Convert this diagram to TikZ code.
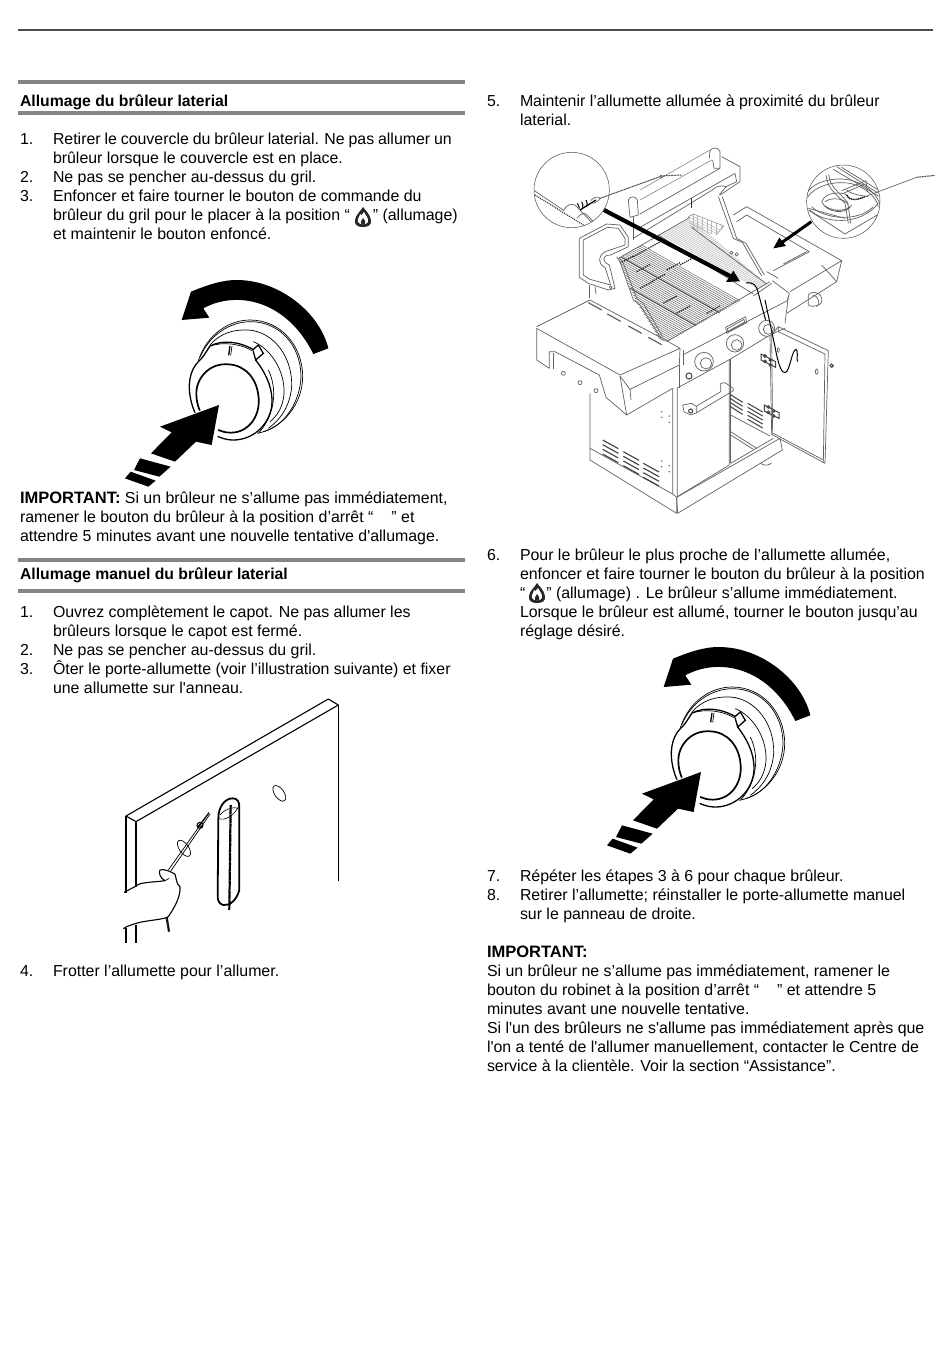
\documentclass[tikz,border=0pt]{standalone}
\usepackage{fontspec}
\setmainfont[Ligatures=TeXOff]{Liberation Sans}
\newcommand{\gap}[1]{\hspace*{#1pt}}
\newcommand{\imp}{{\fontsize{16.5}{19}\selectfont\bfseries IMPORTANT:}}
\tikzset{
  x=1pt,y=-1pt,
  txt/.style={anchor=base west,inner sep=0pt,outer sep=0pt,font=\fontsize{15.9}{19}\selectfont,text=black},
  hd/.style={txt,font=\fontsize{15.75}{19}\selectfont\bfseries},
  rule/.style={line width=4pt,draw=black!48},
  ink/.style={draw=black,line width=1.1pt,line join=round},
  gl/.style={draw=black!62,line width=0.7pt,line join=round},
  gt/.style={draw=black!55,line width=0.55pt},
  gr/.style={draw=black!28,line width=0.5pt},
  knobline/.style={draw=black,line width=0.7pt},
  knobthick/.style={draw=black,line width=1.3pt},
  pics/knob/.style={code={
    \begin{scope}[scale=1/3]
    \fill[black] (580,252) -- (625,235) .. controls (600,130) and (480,30) .. (350,30) .. controls (300,30) and (250,50) .. (213,65) -- (185,150) -- (268,143) -- (250,115) .. controls (350,60) and (500,90) .. (580,252) -- cycle;
    \draw[knobline] (235,272) .. controls (262,190) and (330,150) .. (390,150) .. controls (480,150) and (548,225) .. (548,320) .. controls (548,400) and (490,475) .. (412,490);
    \draw[knobline] (240,262) .. controls (268,195) and (330,155) .. (392,155) .. controls (480,155) and (543,228) .. (543,320) .. controls (540,400) and (490,470) .. (430,485);
    \draw[knobline] (270,225) .. controls (300,190) and (340,178) .. (385,180) .. controls (460,185) and (518,260) .. (515,350) .. controls (510,410) and (480,450) .. (445,475);
    \draw[knobline] (400,215) .. controls (450,235) and (495,300) .. (492,370) .. controls (490,410) and (470,440) .. (450,455);
    \draw[knobthick] (235,275) .. controls (250,262) and (255,250) .. (270,228) .. controls (310,208) and (360,215) .. (402,240);
    \draw[knobline] (270,228) .. controls (310,215) and (360,220) .. (402,245);
    \draw[knobthick] (400,238) -- (415,225) -- (430,250) -- (407,270) -- (400,245);
    \draw[knobthick] (330,228) -- (326,256);
    \draw[knobline] (336,228) -- (332,256);
    \draw[knobthick] (235,275) .. controls (210,300) and (200,345) .. (215,400) .. controls (232,465) and (285,510) .. (340,510) .. controls (395,510) and (445,470) .. (455,410) .. controls (462,350) and (430,300) .. (407,270);
    \draw[knobline] (445,300) .. controls (470,350) and (470,430) .. (415,490);
    \draw[draw=black,line width=1.7pt,fill=white] (325,283) .. controls (268,278) and (228,325) .. (229,372) .. controls (230,440) and (280,488) .. (332,488) .. controls (385,488) and (420,440) .. (416,385) .. controls (412,325) and (375,285) .. (325,283) -- cycle;
    \fill[white] (110,480) -- (300,395) -- (290,545) -- (90,640) -- cycle;
    \fill[black] (297,405) -- (120,470) -- (155,487) -- (93,550) -- (165,575) -- (228,515) -- (275,525) -- cycle;
    \fill[black] (60,565) -- (152,590) -- (118,620) -- (42,600) -- cycle;
    \fill[black] (32,605) -- (107,632) -- (85,650) -- (15,625) -- cycle;
    \end{scope}
  }},
  pics/flameicon/.style={code={
    \fill[black!85] (0,-10) .. controls (2,-7) and (7,-3) .. (8,3) .. controls (9,8) and (5,10) .. (0,10) .. controls (-5,10) and (-9,8) .. (-8,3) .. controls (-7,-3) and (-2,-6) .. (0,-10) -- cycle;
    \fill[white] (1,-5) .. controls (2,-2) and (6,1) .. (5,5) .. controls (4,8) and (-4,8) .. (-5,5) .. controls (-6,2) and (-3,-1) .. (-3,-3) .. controls (-2,-2) and (-1,-2) .. (-1,-2) .. controls (-1,-3) and (0,-4) .. (1,-5) -- cycle;
    \fill[black!85] (0,1) .. controls (2,3) and (3,5) .. (2,7) -- (-2,7) .. controls (-3,5) and (-1,3) .. (0,1) -- cycle;
  }}
}
\begin{document}
\begin{tikzpicture}
\useasboundingbox (0,0) rectangle (950,1369);
\fill[white] (0,0) rectangle (950,1369);

% page rules
\coordinate (ta) at (18,30); \coordinate (tb) at (933,30);
\draw[black!70,line width=1.6pt] (ta) -- (tb);
\draw[rule] (18,82) -- (465,82);
\draw[rule] (18,113) -- (465,113);
\draw[rule] (18,560) -- (465,560);
\draw[rule] (18,591) -- (465,591);

% left column text
\node[hd] (h1) at (20,106) {Allumage du brûleur laterial};
\node[txt] (n1) at (20,144) {1.};
\node[txt] (l1) at (53,144) {\spaceskip=3.9pt Retirer le couvercle du brûleur laterial. Ne pas allumer un};
\node[txt] (l2) at (53,163) {brûleur lorsque le couvercle est en place.};
\node[txt] (n2) at (20,182) {2.};
\node[txt] (l3) at (53,182) {Ne pas se pencher au-dessus du gril.};
\node[txt] (n3) at (20,201) {3.};
\node[txt] (l4) at (53,201) {Enfoncer et faire tourner le bouton de commande du};
\node[txt] (l5) at (53,220) {brûleur du gril pour le placer à la position “\gap{23}” (allumage)};
\node[txt] (l6) at (53,239) {et maintenir le bouton enfoncé.};
\pic at (363,217) {flameicon};

\pic at (120,270) {knob};

\node[txt] (i1) at (20,503) {\imp\ Si un brûleur ne s’allume pas immédiatement,};
\node[txt] (i2) at (20,522) {ramener le bouton du brûleur à la position d’arrêt “\gap{18}” et};
\node[txt] (i3) at (20,541) {attendre 5 minutes avant une nouvelle tentative d'allumage.};

\node[hd] (h2) at (20,579) {Allumage manuel du brûleur laterial};
\node[txt] (n4) at (20,617) {1.};
\node[txt] (m1) at (53,617) {Ouvrez complètement le capot. Ne pas allumer les};
\node[txt] (m2) at (53,636) {brûleurs lorsque le capot est fermé.};
\node[txt] (n5) at (20,655) {2.};
\node[txt] (m3) at (53,655) {Ne pas se pencher au-dessus du gril.};
\node[txt] (n6) at (20,674) {3.};
\node[txt] (m4) at (53,674) {Ôter le porte-allumette (voir l’illustration suivante) et fixer};
\node[txt] (m5) at (53,693) {une allumette sur l'anneau.};
\node[txt] (n7) at (20,976) {4.};
\node[txt] (m6) at (53,976) {Frotter l’allumette pour l’allumer.};

% right column text
\node[txt] (n8) at (487,106) {5.};
\node[txt] (r1) at (520,106) {Maintenir l’allumette allumée à proximité du brûleur};
\node[txt] (r2) at (520,125) {laterial.};
\node[txt] (n9) at (487,560) {6.};
\node[txt] (r3) at (520,560) {Pour le brûleur le plus proche de l’allumette allumée,};
\node[txt] (r4) at (520,579) {enfoncer et faire tourner le bouton du brûleur à la position};
\node[txt] (r5) at (520,598) {“\gap{21}” (allumage) . Le brûleur s’allume immédiatement.};
\node[txt] (r6) at (520,617) {Lorsque le brûleur est allumé, tourner le bouton jusqu’au};
\node[txt] (r7) at (520,636) {réglage désiré.};
\pic at (537,593) {flameicon};

\pic at (602,637) {knob};

\node[txt] (n10) at (487,881) {7.};
\node[txt] (r8) at (520,881) {Répéter les étapes 3 à 6 pour chaque brûleur.};
\node[txt] (n11) at (487,900) {8.};
\node[txt] (r9) at (520,900) {Retirer l’allumette; réinstaller le porte-allumette manuel};
\node[txt] (r10) at (520,919) {sur le panneau de droite.};
\node[txt] (r11) at (487,957) {\imp};
\node[txt] (r12) at (487,976) {Si un brûleur ne s’allume pas immédiatement, ramener le};
\node[txt] (r13) at (487,995) {bouton du robinet à la position d’arrêt “\gap{18}” et attendre 5};
\node[txt] (r14) at (487,1014) {minutes avant une nouvelle tentative.};
\node[txt] (r15) at (487,1033) {Si l'un des brûleurs ne s'allume pas immédiatement après que};
\node[txt] (r16) at (487,1052) {l'on a tenté de l'allumer manuellement, contacter le Centre de};
\node[txt] (r17) at (487,1071) {service à la clientèle. Voir la section “Assistance”.};

% manual match-holder illustration
\begin{scope}[shift={(110,690)},scale=1/3]
\draw[ink] (48,378) -- (655,27) -- (685,45) -- (78,395) -- cycle;
\draw[ink] (48,378) -- (48,610);
\draw[ink] (78,395) -- (78,590);
\draw[line width=1.3pt] (685,45) -- (685,572);
\draw[line width=0.7pt,rotate around={35:(508,310)}] (508,310) ellipse[x radius=14,y radius=27];
\draw[line width=1.8pt] (325,385) .. controls (325,350) and (345,325) .. (368,325) .. controls (382,325) and (388,335) .. (388,350) -- (388,600) .. controls (380,630) and (360,648) .. (340,645) .. controls (328,642) and (323,632) .. (323,620) -- cycle;
\draw[line width=0.6pt] (325,385) .. controls (345,395) and (375,375) .. (388,345);
\draw[line width=0.6pt] (330,375) .. controls (345,355) and (375,350) .. (385,355);
\draw[line width=2.2pt,dash pattern=on 1.6pt off 0.3pt] (362,345) -- (358,660);
\draw[line width=0.7pt] (175,540) -- (297,368);
\draw[line width=0.7pt] (181,545) -- (300,372);
\draw[line width=1.2pt,dash pattern=on 1.6pt off 0.5pt] (265,410) -- (297,368);
\draw[line width=1.1pt] (270,406) circle[radius=9];
\draw[line width=0.6pt] (270,406) circle[radius=4];
\draw[line width=0.7pt,rotate around={35:(222,475)}] (222,475) ellipse[x radius=14,y radius=28];
\draw[ink] (42,607) -- (75,590) .. controls (90,575) and (125,578) .. (165,572) .. controls (150,565) and (145,545) .. (150,540) .. controls (158,535) and (185,545) .. (195,553) .. controls (200,565) and (197,580) .. (210,590) .. controls (212,620) and (195,650) .. (175,680) .. controls (165,688) and (120,690) .. (85,698) .. controls (70,703) and (50,708) .. (40,716);
\draw[line width=0.7pt] (165,572) -- (178,565);
\draw[line width=2.2pt,dash pattern=on 1.6pt off 0.4pt] (170,682) -- (177,725);
\draw[ink] (48,714) -- (48,760);
\draw[ink] (78,704) -- (78,760);
\end{scope}

% grill illustration (coordinates of the upper enlargement)
\begin{scope}[shift={(520,140)},scale=1/3]
% main grate
\begin{scope}
\clip (295,358) -- (415,285) -- (700,462) -- (440,605) -- (420,600) -- (345,480) -- cycle;
\foreach \k in {0,5,...,420} {
  \draw[gt] (250-\k*0.55,250+\k*1.0) -- (850-\k*0.55,590+\k*1.0);
}
\foreach \k in {70,130,210,290,370} {
  \draw[gl,draw=black!80] (270-\k*0.55,240+\k*1.0) -- (870-\k*0.55,580+\k*1.0);
}
\foreach \ax/\ay in {340/350,385/325,350/395,300/370,395/425,440/390,480/375,360/445,430/490,560/520,470/520} {
  \draw[black!85,line width=1.2pt,dash pattern=on 1.4pt off 0.9pt] (\ax,\ay) -- ++(40,-22);
}
\end{scope}
% plain band beside the grate
\begin{scope}
\clip (415,285) -- (510,232) -- (740,432) -- (700,462) -- cycle;
\foreach \k in {0,10,...,150} {
  \draw[gr] (380+\k*0.5,260-\k*0.3) -- (760+\k*0.5,470-\k*0.3);
}
\end{scope}
% upper rack
\begin{scope}
\clip (505,230) -- (520,222) -- (612,258) -- (588,285) -- (510,262) -- cycle;
\foreach \k in {0,8,...,80} {
  \draw[gr] (480,210+\k) -- (640,290+\k);
}
\foreach \k in {0,14,...,110} {
  \draw[gr] (505+\k,215) -- (505+\k,295);
}
\end{scope}
\draw[gr,draw=black!45] (505,230) -- (520,222) -- (612,258) -- (588,285);
\draw[gl] (515,262) -- (740,432);
\draw[gl] (415,285) -- (700,462);
\draw[gl] (295,355) -- (510,232);
\draw[gl] (290,350) -- (300,365) -- (340,480) -- (360,495) -- (420,590);
\draw[gl] (297,352) -- (310,370) -- (350,475) -- (370,490) -- (428,590);
% lid
\draw[gr,draw=black!55] (360,150) -- (570,30);
\draw[gr,draw=black!55] (360,180) -- (575,60);
\draw[gl] (568,55) -- (570,32) .. controls (575,22) and (595,20) .. (600,35) -- (600,85) -- (582,85) -- (578,60);
\draw[gl] (325,180) .. controls (330,165) and (350,170) .. (352,180) -- (355,225) -- (330,232) -- cycle;
\draw[gl] (340,232) -- (340,300);
\draw[gl] (605,50) -- (660,80) -- (660,125) -- (600,165);
\draw[gl] (600,85) -- (360,222);
\draw[gl] (645,100) -- (650,125) -- (618,140);
\draw[gl] (645,100) -- (360,262);
\draw[gl] (580,148) -- (340,295);
\draw[gl] (580,148) .. controls (585,138) and (610,135) .. (618,140) -- (598,165);
\draw[gl] (595,170) -- (640,295) -- (668,308) -- (725,408);
\draw[gl] (607,170) -- (650,295) -- (678,310) -- (733,405);
\draw[black!80,line width=0.9pt] (515,175) -- (515,205);
\draw[gl] (650,343) circle[radius=5];
\draw[gl] (634,338) circle[radius=5];
% left end of lid
\draw[gl] (178,295) -- (260,252) -- (300,255) -- (325,292) -- (325,320) -- (272,345) .. controls (245,345) and (245,365) .. (268,375) -- (285,445) -- (265,450) -- (205,430) -- (178,412) -- cycle;
\draw[gl] (190,300) -- (262,262) -- (295,265) -- (315,295) -- (315,315) -- (255,335) .. controls (232,350) and (235,375) .. (255,382) -- (272,435) -- (210,418) -- (190,405) -- cycle;
\draw[gl] (272,442) circle[radius=4];
\draw[gl] (208,435) -- (208,475);
\draw[gl] (225,440) -- (228,462);
% right shelf
\draw[gl] (640,225) -- (680,200) -- (965,362) -- (810,455);
\draw[gl] (650,245) -- (680,225) -- (868,335) -- (760,392);
\draw[gl] (790,372) -- (860,335);
\draw[gl] (740,395) -- (775,415);
\draw[gl] (965,362) -- (950,425) -- (800,520);
\draw[gl] (805,470) -- (795,550);
\draw[gl] (905,375) -- (950,425);
\draw[gl] (865,470) .. controls (860,455) and (900,450) .. (905,475) .. controls (912,495) and (880,505) .. (865,495) -- cycle;
\draw[gl] (878,465) .. controls (892,465) and (905,490) .. (890,500);
% firebox rim
\draw[gl] (757,422) -- (808,460) -- (802,482) -- (488,645);
\draw[gl] (750,425) -- (440,605);
\draw[gl] (700,468) -- (755,430);
\draw[gl] (617,562) -- (677,530) -- (680,548) -- (620,580) -- cycle;
\draw[gl] (622,566) -- (672,538) -- (674,546) -- (624,574) -- cycle;
% left circle
\draw[draw=black!70,line width=0.5pt,fill=white] (155,150) circle[radius=113];
\begin{scope}
\clip (155,150) circle[radius=113];
\draw[gl] (40,150) -- (130,210);
\draw[black!80,line width=1.2pt,dash pattern=on 1pt off 1pt] (45,165) -- (195,258);
\draw[gl] (130,212) .. controls (140,195) and (150,190) .. (165,195) -- (218,250);
\draw[gl] (172,235) .. controls (180,222) and (190,218) .. (198,222) -- (220,245);
\draw[black,line width=1.3pt] (180,210) -- (228,180);
\draw[gl] (212,182) .. controls (222,170) and (235,168) .. (240,175) .. controls (235,185) and (225,190) .. (212,190);
\draw[black,line width=1pt] (172,190) .. controls (175,197) and (178,200) .. (178,205) (185,185) .. controls (188,192) and (190,197) .. (188,203) (198,180) .. controls (201,187) and (204,193) .. (200,200);
\end{scope}
\draw[black!70,line width=1pt,dash pattern=on 1.2pt off 0.5pt] (240,175) -- (420,110);
\draw[black!70,line width=1pt,dash pattern=on 2pt off 0.8pt] (420,108) -- (487,105);
\draw[gl] (424,110) circle[radius=4];
\end{scope}

% right detail circle (coordinates of its enlargement)
\begin{scope}[shift={(800,160)},scale=1/3]
\draw[draw=black!70,line width=0.5pt,fill=white] (130,125) circle[radius=110];
\begin{scope}
\clip (130,125) circle[radius=110];
\draw[gl] (110,20) -- (235,100);
\draw[gl] (100,28) -- (235,108);
\draw[gl] (125,22) -- (235,90);
\draw[gl] (20,100) .. controls (40,65) and (100,50) .. (150,60) .. controls (195,70) and (235,105) .. (240,135);
\draw[gl] (22,112) .. controls (45,78) and (100,62) .. (150,70) .. controls (190,78) and (230,110) .. (235,140);
\draw[gl] (30,150) .. controls (70,190) and (180,200) .. (235,130);
\draw[gl] (35,140) .. controls (70,175) and (170,190) .. (220,140);
\draw[gl] (78,45) .. controls (80,65) and (88,85) .. (105,100) -- (135,130) -- (145,190);
\draw[gl] (86,43) .. controls (88,62) and (96,80) .. (113,95) -- (143,127) -- (152,190);
\draw[gl] (25,145) -- (135,175);
\draw[gl] (25,150) -- (135,222) -- (240,160);
\draw[gl] (125,92) -- (198,62) -- (202,95);
\draw[gl] (130,100) -- (195,72);
\draw[gl] (65,125) .. controls (75,95) and (125,95) .. (140,105);
\draw[gl] (65,125) .. controls (80,160) and (140,165) .. (155,135);
\draw[gl] (75,125) .. controls (95,110) and (135,115) .. (145,135);
\draw[black!70,line width=1.1pt,dash pattern=on 1.2pt off 0.6pt] (75,138) .. controls (95,155) and (135,155) .. (150,140);
\draw[gl] (140,90) .. controls (150,100) and (170,105) .. (205,110);
\draw[black,line width=1.3pt,dash pattern=on 1.3pt off 0.6pt] (140,105) .. controls (150,125) and (170,120) .. (195,110);
\end{scope}
\draw[black!60,line width=0.7pt] (195,110) -- (350,52);
\draw[black!65,line width=1.1pt,dash pattern=on 2pt off 0.6pt] (350,52) -- (405,46);
\end{scope}

\begin{scope}[shift={(520,140)},scale=1/3]
% big arrows
\draw[black,line width=4.2pt] (252,210) -- (630,408);
\fill[black] (660,424) -- (618,426) -- (640,392) -- cycle;
\draw[black,line width=3pt] (874,245) -- (785,308);
\fill[black] (760,325) -- (778,293) -- (798,318) -- cycle;
\draw[black,line width=1pt] (678,429) .. controls (700,425) and (710,435) .. (715,460) -- (745,570);
\end{scope}

% lower part of the grill (coordinates of the lower enlargement)
\begin{scope}[shift={(520,300)},scale=1/3]
% left shelf
\draw[gl] (50,80) -- (210,0);
\draw[gl] (50,85) -- (300,225) -- (480,145) -- (445,125) -- (210,0);
\draw[gl] (50,85) -- (50,180) -- (88,205) -- (88,155) -- (105,155) -- (238,225) -- (258,292) -- (320,345) -- (300,228);
\draw[gl] (100,160) -- (100,208);
\draw[gl] (330,268) -- (478,195);
\draw[gl] (300,228) -- (330,268) -- (333,300);
\draw[gl] (320,345) -- (458,265);
\draw[gl] (480,145) -- (478,195);
\foreach \ax/\ay in {205/8,262/42,325/78,385/112} {
  \draw[gl,line width=1.2pt] (\ax,\ay) -- ++(40,22);
}
\foreach \sx/\sy in {130/220,180/248,228/272} {
  \draw[gl] (\sx,\sy) circle[radius=6];
}
% control panel
\draw[gl] (490,150) -- (490,195);
\draw[gl] (478,195) -- (478,265);
\draw[gl] (470,265) -- (630,178) -- (750,105) -- (795,85);
% knobs
\draw[gl,fill=white] (552,185) circle[radius=28];
\draw[gl] (558,190) circle[radius=17];
\draw[gl,fill=white] (645,130) circle[radius=26];
\draw[gl] (650,135) circle[radius=16];
\draw[gl,fill=white] (740,85) circle[radius=24];
\draw[gl] (745,88) circle[radius=15];
\draw[black!70,line width=1.1pt,fill=white] (507,228) circle[radius=9];
% cabinet left side
\draw[gl] (210,280) -- (210,480) -- (470,640) -- (470,592) -- (458,582) -- (458,265);
\draw[gl] (210,445) -- (458,582);
\foreach \dx/\dy in {248/420,310/455,370/490} {
  \foreach \k in {0,14,28,42} {
    \draw[black!75,line width=1.1pt] (\dx,\dy+\k) -- ++(47,26);
  }
}
\foreach \px/\py in {425/335,425/352,448/348,448/367,425/483,425/500,448/497,448/515} {
  \fill[black!60] (\px,\py) circle[radius=2.5];
}
% doors
\draw[gl] (472,265) -- (472,590) -- (628,495) -- (628,178);
\draw[gl] (632,178) -- (632,490);
\draw[gl] (470,592) -- (780,415) -- (787,450) -- (473,640) -- (470,592);
\draw[gl] (750,105) -- (755,405);
\draw[gl] (488,315) -- (515,310) -- (530,320) -- (530,338) -- (512,345) -- (492,335) -- cycle;
\draw[gl] (530,318) -- (602,275) -- (602,250) -- (615,248) -- (640,265) -- (640,272) -- (530,338);
\draw[black!70,line width=1.1pt] (512,333) circle[radius=6];
\foreach \k in {0,12,24,36} {
  \draw[black!70,line width=1.1pt] (630,283+\k) -- ++(38,24);
}
\foreach \k in {0,12,24,36,48} {
  \draw[black!70,line width=1.1pt] (683,310+\k) -- ++(45,26);
}
\draw[gl] (632,345) -- (750,408);
\draw[gl] (632,395) -- (710,445);
\draw[gl] (632,405) -- (700,448);
\draw[gl] (632,490) -- (760,415);
% hinges
\foreach \hx/\hy in {745/180,755/333} {
  \draw[black!75,line width=1pt] (\hx-22,\hy-18) -- (\hx+22,\hy+5) -- (\hx+22,\hy+22) -- (\hx-22,\hy) -- cycle;
  \draw[black!75,line width=1pt] (\hx-10,\hy-12) circle[radius=4];
  \draw[black!75,line width=1pt] (\hx+6,\hy) circle[radius=4];
  \draw[black!75,line width=1pt] (\hx-10,\hy+4) circle[radius=4];
  \draw[black!75,line width=1pt] (\hx+6,\hy+15) circle[radius=4];
}
% open door
\draw[gl] (755,105) -- (775,80) -- (925,152) -- (915,490) -- (758,405);
\draw[gl] (775,80) -- (775,95) -- (915,162);
\draw[gl] (915,162) -- (910,488);
\draw[gl] (758,405) -- (755,105);
\draw[gl] (760,400) -- (910,480);
\draw[gl] (890,215) ellipse[x radius=4,y radius=8];
\draw[gl] (775,150) ellipse[x radius=3,y radius=7];
\draw[black!70,line width=1.1pt] (935,197) circle[radius=5];
\draw[gl] (722,490) .. controls (735,500) and (750,495) .. (755,488);
% gas line
\draw[black,line width=1pt] (735,0) -- (765,140) .. controls (775,195) and (785,220) .. (795,218) .. controls (810,215) and (815,150) .. (828,148) .. controls (835,150) and (830,175) .. (832,185);
\end{scope}
\end{tikzpicture}
\end{document}
